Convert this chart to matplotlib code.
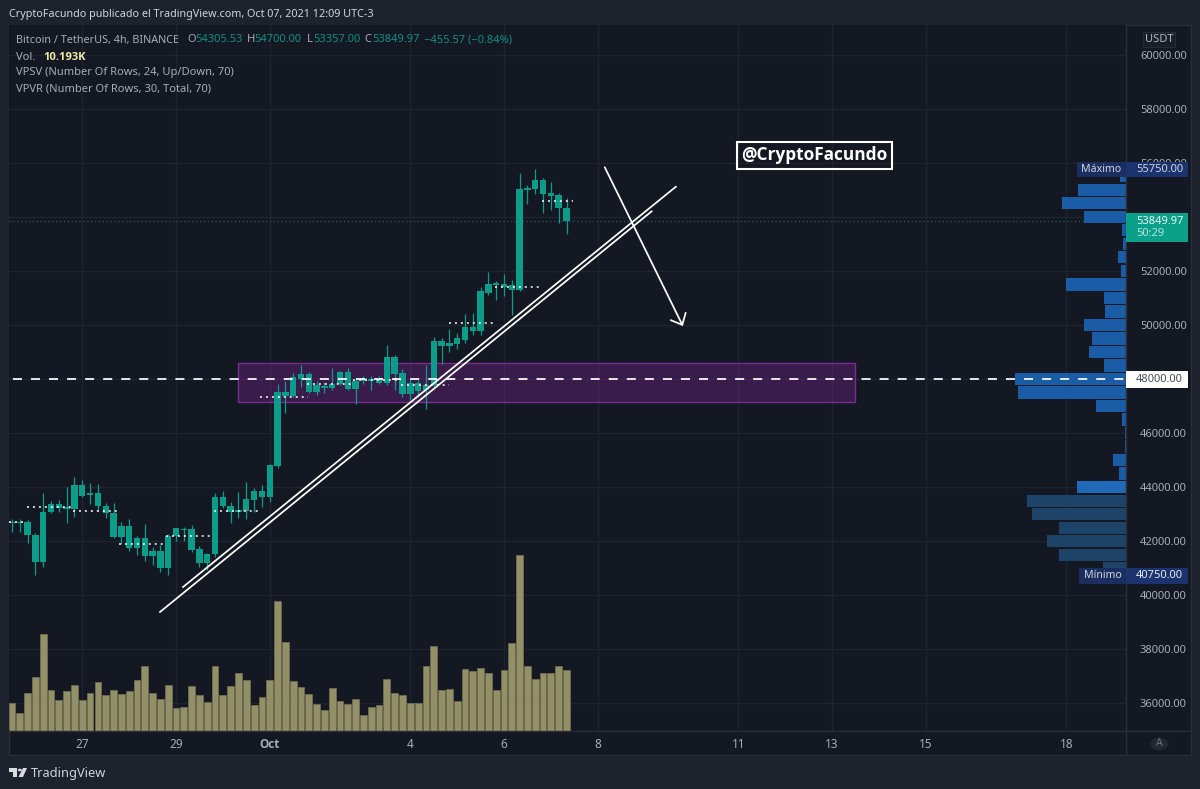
import matplotlib
matplotlib.use("Agg")
import matplotlib.pyplot as plt
from matplotlib.patches import Rectangle, Polygon, Circle
from matplotlib.lines import Line2D
import numpy as np

plt.rcParams['font.family'] = ['Noto Sans', 'DejaVu Sans']

opens = [42724,42699,42699,42231,41220,43081,43365,43279,43180,44067,43698,43772,43303,43032,42144,42576,41762,42132,41454,41639,
         41023,42194,42453,42440,41725,41208,41516,43624,43303,43081,43118,43525,43858,43624,44783,47531,47371,48012,48185,47507,
         47753,47655,47815,48271,47630,47938,47987,47864,47864,48801,48234,47445,47864,47593,47778,49405,49220,49294,49442,49934,
         49786,51191,51465,51513,51291,51291,54978,55026,55359,54767,54804,54305.53]
highs = [42810,42810,42786,42292,43772,43488,43525,43994,44388,44265,44166,44117,43427,43427,42724,42810,42194,42625,41799,41861,
         42268,42502,42514,42600,41824,41577,43772,43870,43464,43809,44178,43957,44080,44856,47815,47938,48234,48517,48271,47938,
         47901,48394,48308,48394,48024,48111,48111,48111,49257,48887,48357,47987,47963,48517,49564,49527,49849,49712,50404,50441,
         51413,51957,51635,51883,51661,55607,55174,55750,55422,55296,54867,54700]
lows = [42354,42354,41922,40752,41035,43057,43094,42687,42909,43648,43377,43131,42872,42107,41898,41651,41491,41281,41121,40875,
        40752,42009,42009,41614,41060,40936,41405,43217,42687,42847,42810,43094,43279,43464,44709,46755,47322,47692,47470,47408,
        47470,47593,47778,47593,47075,47815,47593,47815,47778,47593,47346,47223,47346,46878,47716,48555,49010,49109,49342,49627,
        49627,51106,50921,51069,50367,51265,54472,54830,54127,54250,53780,53357]
closes = [42687,42687,42231,41220,43094,43365,43242,43180,44067,43685,43772,43291,43032,42144,42576,41762,42132,41454,41639,41023,
          42194,42477,42403,41688,41208,41540,43624,43303,43081,43155,43550,43858,43624,44807,47519,47371,48061,48185,47507,47778,
          47655,47815,48271,47630,47938,48024,47938,48024,48801,48172,47445,47864,47568,47778,49405,49220,49342,49516,49934,49786,
          51254,51513,51561,51391,51476,55015,55063,55359,54830,54867,54312,53849.97]
volumes = [4.65,3.05,6.32,8.92,16.18,6.87,5.10,6.59,7.70,5.10,6.32,8.09,6.04,6.76,6.20,6.59,8.42,10.86,6.32,5.26,
           7.59,3.82,3.99,7.42,5.93,4.82,10.75,5.93,7.42,9.58,8.48,4.27,5.65,8.53,21.66,14.79,8.37,7.26,6.20,4.43,
           3.43,7.15,4.93,4.43,5.26,2.66,3.99,4.27,8.70,6.32,5.93,4.71,4.71,10.86,14.18,6.76,6.93,4.93,10.30,10.03,
           10.42,9.64,6.87,10.08,14.57,29.2,10.75,8.70,9.64,9.64,10.75,10.19]

# VPVR rows: lower bound of each 500-wide row, top to bottom, and its relative volume
vp_lows = [55250,54750,54250,53750,53250,52750,52250,51750,51250,50750,50250,49750,49250,48750,48250,
           47750,47250,46750,46250,45750,45250,44750,44250,43750,43250,42750,42250,41750,41250,40750]
vp_vals = [6.5,48,63.7,42,4,2.7,7.7,5.3,60,21.7,20.7,42,34,37,22.3,
           111,108,30,4,1,1,13.3,6.7,48.7,98.7,94,66.7,79.3,66.7,23.3]

# Dotted VPSV point-of-control levels: start candle, end candle, price
poc_start = [-0.4,1.9,7.8,13.7,19.7,25.9,31.8,37.8,43.7,49.8,55.9,61.9,67.9]
poc_end = [1.9,7.8,13.7,19.7,25.7,31.9,37.9,43.7,49.8,55.9,61.9,67.9,71.8]
poc_price = [42724,43267,43106,41910,42194,43118,47346,47802,47963,47778,50071,51413,54582]

x_tick_pos = [9,21,33,51,63,75,93,105,117,135]
x_tick_lab = ['27','29','Oct','4','6','8','11','13','15','18']
y_ticks = list(range(36000,60001,2000))
y_hidden = [48000,54000]   # covered by the price tags

# Drawings: candle index / price pairs
trend1_x, trend1_y = [18.95,81.9], [39384,54200]
trend2_x, trend2_y = [21.9,85.0], [40308,55110]
arrow_x, arrow_y = [75.9,85.9], [55830,49960]
zone_x, zone_y = [28.9,108.0], [47150,48592]
level = 48000
last_price = 53849.97

BG = '#141823'; FRAME = '#1e222d'; LINE = '#2a2e39'; GRID = '#1f232e'
TEAL = '#0c9d8a'; TXT = '#a9acb5'; GRN = '#0c8f80'

W, H = 1200, 789
fig = plt.figure(figsize=(12, 7.89), dpi=100, facecolor=FRAME)
def fx(x): return x / W
def fy(y): return 1 - y / H
def ptext(x, y, s, **kw):
    kw.setdefault('va', 'center'); kw.setdefault('ha', 'left')
    return fig.text(fx(x), fy(y), s, **kw)
def prect(x0, y0, x1, y1, **kw):
    r = Rectangle((fx(x0), fy(y1)), fx(x1 - x0), (y1 - y0) / H, transform=fig.transFigure, **kw)
    fig.add_artist(r)
    return r

prect(9, 25, 1191, 755, facecolor=BG, edgecolor=LINE, lw=1, zorder=-5)

pos = [fx(9), fy(731), fx(1117), 706 / H]
xlim = (-0.384, 142.64); ylim = (34983, 61091)

ax = fig.add_axes(pos, facecolor=BG, zorder=1)
ax.set_xlim(xlim); ax.set_ylim(ylim)
ax.set_xticks(x_tick_pos); ax.set_xticklabels(x_tick_lab)
ax.set_yticks(y_ticks); ax.set_yticklabels(['' if v in y_hidden else f'{v}.00' for v in y_ticks])
ax.yaxis.tick_right()
ax.tick_params(axis='both', length=0, colors='#a9acb5')
ax.tick_params(axis='y', labelsize=8, pad=10)
ax.tick_params(axis='x', labelsize=8.5, pad=5)
oct_label = ax.get_xticklabels()[2]
oct_label.set_family('Open Sans'); oct_label.set_fontweight('bold')
ax.grid(True, color=GRID, lw=1)
ax.set_axisbelow(True)
for s in ax.spines.values():
    s.set_visible(False)

idx = np.arange(len(opens))
ax.add_patch(Rectangle((zone_x[0], zone_y[0]), zone_x[1]-zone_x[0], zone_y[1]-zone_y[0],
                       facecolor='#9c27b0', alpha=0.28, edgecolor='none', zorder=2))
ax.add_patch(Rectangle((zone_x[0], zone_y[0]), zone_x[1]-zone_x[0], zone_y[1]-zone_y[0],
                       facecolor='none', edgecolor='#7d2a96', lw=1, zorder=2))
ax.axhline(last_price, color='#1f9e8f', lw=0.8, ls=(0, (1, 2.5)), alpha=0.6, zorder=2)
ax.vlines(idx, lows, highs, color=TEAL, lw=0.9, zorder=3)
ax.bar(idx, np.abs(np.array(closes)-np.array(opens)), bottom=np.minimum(opens, closes),
       width=0.82, color=TEAL, zorder=3)

axv = fig.add_axes(pos, facecolor='none', zorder=2)
axv.set_xlim(xlim); axv.set_ylim(0, 117.3); axv.axis('off')
axv.bar(idx, volumes, width=0.87, color='#938f66', edgecolor='#7d7a58', lw=0.4)

axp = fig.add_axes(pos, facecolor='none', zorder=3)
axp.set_xlim(1117, 0); axp.set_ylim(ylim); axp.axis('off')
vp_cols = ['#1b5ca6'] * 23 + ['#2068b8'] + ['#1d4468'] * 6
axp.barh(np.array(vp_lows)+250, vp_vals, height=455, color=vp_cols)

axo = fig.add_axes(pos, facecolor='none', zorder=4)
axo.set_xlim(xlim); axo.set_ylim(ylim); axo.axis('off')
for a, b, p in zip(poc_start, poc_end, poc_price):
    axo.plot([a, b], [p, p], color='white', lw=1.1, ls=(0, (1.3, 2.6)), dash_capstyle='butt')
axo.axhline(level, color='white', lw=1.25, ls=(8.15, (5.2, 5.2)))
axo.plot(trend1_x, trend1_y, color='white', lw=1.25)
axo.plot(trend2_x, trend2_y, color='white', lw=1.25)
axo.annotate('', xy=(arrow_x[1], arrow_y[1]), xytext=(arrow_x[0], arrow_y[0]),
             arrowprops=dict(arrowstyle='->,head_length=0.67,head_width=0.6', color='white', lw=1.25,
                             shrinkA=0, shrinkB=0))

# Frame separators
fig.add_artist(Line2D([fx(1126), fx(1126)], [fy(25), fy(755)], color=LINE, lw=1, zorder=5))
fig.add_artist(Line2D([fx(9), fx(1191)], [fy(731), fy(731)], color=LINE, lw=1, zorder=5))

# Header and legend
ptext(9, 14, 'CryptoFacundo publicado el TradingView.com, Oct 07, 2021 12:09 UTC-3', color='#d1d4dc', fontsize=7.77, zorder=9)
ptext(16, 40, 'Bitcoin / TetherUS, 4h, BINANCE', color=TXT, fontsize=7.8, zorder=9)
for x, s, c in [(187,'O',TXT),(195,'54305.53',GRN),(247,'H',TXT),(254,'54700.00',GRN),(307,'L',TXT),(313,'53357.00',GRN),
                (364,'C',TXT),(372,'53849.97',GRN),(424,'−455.57 (−0.84%)',GRN)]:
    ptext(x, 40, s, color=c, fontsize=8, zorder=9)
ptext(16, 57, 'Vol.', color=TXT, fontsize=8, zorder=9)
ptext(43, 57, '10.193K', color='#efe9a8', fontsize=8, family='Open Sans', fontweight='bold', zorder=9)
ptext(16, 73, 'VPSV (Number Of Rows, 24, Up/Down, 70)', color=TXT, fontsize=8, zorder=9)
ptext(16, 89, 'VPVR (Number Of Rows, 30, Total, 70)', color=TXT, fontsize=8, zorder=9)

# Watermark
ptext(814.5, 155.5, '@CryptoFacundo', color='white', fontsize=12.4, family='Open Sans', fontweight='bold', ha='center', zorder=10)
prect(737, 142.5, 892.5, 169, facecolor='none', edgecolor='white', lw=1.5, zorder=9)

# Price-axis labels
prect(1143, 32, 1175, 47, facecolor='#1a1e29', edgecolor='#262a35', lw=0.8, zorder=8)
ptext(1159, 39.5, 'USDT', color='#b2b5be', fontsize=8, ha='center', zorder=9)
prect(1077, 162, 1126, 177, facecolor='#1a2f60', edgecolor='none', zorder=8)
prect(1126, 162, 1188, 177, facecolor='#1b336e', edgecolor='none', zorder=8)
ptext(1081, 170, 'Máximo', color='#d1d4dc', fontsize=7.6, zorder=9)
ptext(1136, 170, '55750.00', color='#d1d4dc', fontsize=8, zorder=9)
prect(1079, 568, 1126, 584, facecolor='#1a2f60', edgecolor='none', zorder=8)
prect(1126, 568, 1188, 584, facecolor='#1b336e', edgecolor='none', zorder=8)
ptext(1084, 576, 'Mínimo', color='#d1d4dc', fontsize=7.6, zorder=9)
ptext(1136, 576, '40750.00', color='#e6e8ee', fontsize=8, zorder=9)
prect(1126, 213, 1188, 242, facecolor='#0ba08a', edgecolor='none', zorder=8)
ptext(1136, 221, '53849.97', color='#e8f5f2', fontsize=8, zorder=9)
ptext(1136, 234, '50:29', color='#b5e3da', fontsize=8, zorder=9)
prect(1126, 371, 1188, 387.5, facecolor='white', edgecolor='none', zorder=8)
ptext(1136, 379.5, '48000.00', color='#4a4d57', fontsize=8, zorder=9)

# Auto button
fig.add_artist(Circle((fx(1159), fy(744)), 9.5 / W, transform=fig.transFigure, facecolor='#232733', edgecolor='none', zorder=8))
ptext(1159, 744, 'A', color='#6f727c', fontsize=7.5, ha='center', zorder=9)

# TradingView logo and name
fig.add_artist(Polygon([(fx(9),fy(768)),(fx(17),fy(768)),(fx(17),fy(777)),(fx(13),fy(777)),(fx(13),fy(772)),(fx(9),fy(772))],
                       transform=fig.transFigure, facecolor='#d9dbe2', edgecolor='none', zorder=8))
fig.add_artist(Polygon([(fx(23),fy(768)),(fx(27),fy(768)),(fx(23),fy(777)),(fx(18.5),fy(777))],
                       transform=fig.transFigure, facecolor='#d9dbe2', edgecolor='none', zorder=8))
fig.add_artist(Circle((fx(19.8), fy(770)), 2.0 / W, transform=fig.transFigure, facecolor='#d9dbe2', edgecolor='none', zorder=8))
ptext(31, 773, 'TradingView', color='#d1d4dc', fontsize=9.2, zorder=9)

fig.savefig('out.png', dpi=100, facecolor=FRAME)
